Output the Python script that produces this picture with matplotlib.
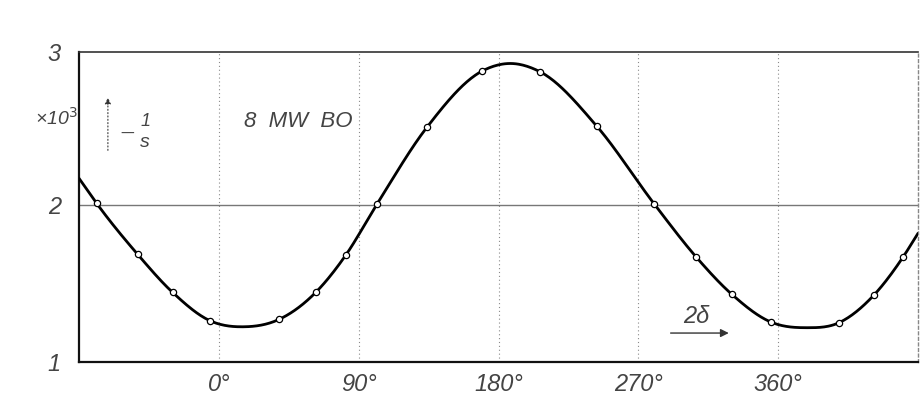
import numpy as np
import matplotlib
matplotlib.use("Agg")
import matplotlib.pyplot as plt

# --- data ---
marker_deg = [-78.6, -52.3, -29.8, -5.6, 38.8, 62.8, 81.6, 101.8, 133.9, 169.5,
              206.8, 243.2, 280.3, 307.1, 330.2, 355.3, 399.2, 421.5, 440.5]
marker_val = [2.01, 1.687, 1.445, 1.264, 1.273, 1.449, 1.68, 2.006, 2.494, 2.852,
              2.847, 2.502, 2.006, 1.671, 1.432, 1.256, 1.252, 1.426, 1.671]
# extra curve points (ends, minima, maximum)
curve_extra_deg = [-90.0, 16.7, 187.0, 377.8, 450.0]
curve_extra_val = [2.17, 1.226, 2.90, 1.22, 1.82]

xtick_vals = [0, 90, 180, 270, 360]
xtick_labels = ["0°", "90°", "180°", "270°", "360°"]
ytick_vals = [1, 2, 2.975]
ytick_labels = ["1", "2", "3"]


def smooth(xs, ys, n=600):
    xs = np.asarray(xs, float)
    ys = np.asarray(ys, float)
    o = np.argsort(xs)
    xs, ys = xs[o], ys[o]
    m = np.gradient(ys, xs)
    xx = np.linspace(xs[0], xs[-1], n)
    idx = np.clip(np.searchsorted(xs, xx) - 1, 0, len(xs) - 2)
    x0, x1 = xs[idx], xs[idx + 1]
    y0, y1 = ys[idx], ys[idx + 1]
    m0, m1 = m[idx], m[idx + 1]
    h = x1 - x0
    t = (xx - x0) / h
    h00 = 2 * t**3 - 3 * t**2 + 1
    h10 = t**3 - 2 * t**2 + t
    h01 = -2 * t**3 + 3 * t**2
    h11 = t**3 - t**2
    yy = h00 * y0 + h10 * h * m0 + h01 * y1 + h11 * h * m1
    return xx, yy


fam = ["Liberation Sans", "DejaVu Sans"]
tc = "#444444"

fig = plt.figure(figsize=(9.22, 3.97), dpi=100)
ax = fig.add_axes([79 / 922, 1 - 362.3 / 397, (918 - 79) / 922, (362.3 - 51.7) / 397])

ax.set_xlim(-90, 450)
ax.set_ylim(1, 2.975)

for xv in xtick_vals:
    ax.axvline(xv, color="#8a8a8a", lw=0.8, ls=(0, (1, 2.5)), zorder=1)
ax.axhline(2, color="#777777", lw=1.0, zorder=1)

cx, cy = smooth(marker_deg + curve_extra_deg, marker_val + curve_extra_val)
ax.plot(cx, cy, color="black", lw=2.0, zorder=3, solid_capstyle="round")
ax.plot(marker_deg, marker_val, ls="none", marker="o", ms=4.5, mfc="white",
        mec="black", mew=0.9, zorder=4)

ax.set_xticks(xtick_vals)
ax.set_xticklabels(xtick_labels)
ax.set_yticks(ytick_vals)
ax.set_yticklabels(ytick_labels)
ax.tick_params(length=0, colors=tc, labelsize=17)
ax.tick_params(axis="x", pad=8)
ax.tick_params(axis="y", pad=13)
for lab in ax.get_xticklabels() + ax.get_yticklabels():
    lab.set_fontstyle("italic")
    lab.set_family(fam)

for s in ["left", "bottom"]:
    ax.spines[s].set_linewidth(1.6)
    ax.spines[s].set_color("#111111")
ax.spines["top"].set_linewidth(1.2)
ax.spines["top"].set_color("#333333")
ax.spines["right"].set_linewidth(1.0)
ax.spines["right"].set_color("#888888")
ax.spines["right"].set_linestyle((0, (2, 2)))

tk = dict(fontstyle="italic", family=fam, color=tc)
fig.text(56 / 922, 1 - 118 / 397, "×10$^{3}$", ha="center", va="center", fontsize=14, **tk)

# up arrow with -1/s
ax.annotate("", xy=(-71.4, 2.70), xytext=(-71.4, 2.33),
            arrowprops=dict(arrowstyle="-|>", color="#333333", lw=0.8, ls=(0, (1, 2)),
                            mutation_scale=9))
ax.text(-59, 2.455, "—", ha="center", va="center", fontsize=10, color=tc)
ax.text(-47.5, 2.53, "1", ha="center", va="center", fontsize=13, **tk)
ax.text(-47.5, 2.40, "s", ha="center", va="center", fontsize=14, **tk)

ax.text(16.0, 2.528, "8  MW  BO", ha="left", va="center", fontsize=16, **tk)

# 2δ arrow
ax.text(307, 1.29, "2δ", ha="center", va="center", fontsize=17, **tk)
ax.annotate("", xy=(330, 1.186), xytext=(289, 1.186),
            arrowprops=dict(arrowstyle="-|>", color="#333333", lw=1.0,
                            mutation_scale=12))

fig.savefig("out.png", dpi=100)
